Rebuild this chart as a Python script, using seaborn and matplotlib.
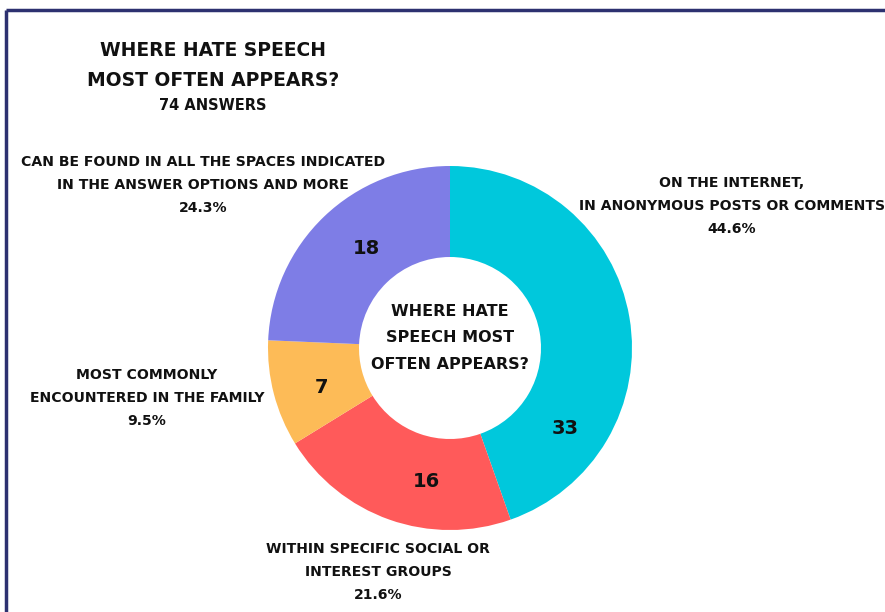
import matplotlib
matplotlib.use("Agg")
import numpy as np
import matplotlib.pyplot as plt
import seaborn as sns

sns.set_theme(style="white")
plt.rcParams["font.family"] = ["DejaVu Sans"]

# Survey answers
categories = [
    "ON THE INTERNET,\nIN ANONYMOUS POSTS OR COMMENTS",
    "WITHIN SPECIFIC SOCIAL OR\nINTEREST GROUPS",
    "MOST COMMONLY\nENCOUNTERED IN THE FAMILY",
    "CAN BE FOUND IN ALL THE SPACES INDICATED\nIN THE ANSWER OPTIONS AND MORE",
]
counts = [33, 16, 7, 18]
colors = ["#00C8DC", "#FF5A5A", "#FDBB57", "#7E7DE6"]
total_answers = 74

W, H = 885, 612
fig = plt.figure(figsize=(W / 100, H / 100), dpi=100)
ax = fig.add_axes([0, 0, 1, 1])

cx, cy, R = 450, H - 348, 182

wedges, _, autotexts = ax.pie(
    counts,
    colors=colors,
    startangle=90,
    counterclock=False,
    center=(cx, cy),
    radius=R,
    wedgeprops=dict(width=R * 0.5, linewidth=0),
    autopct=lambda p: f"{round(p * sum(counts) / 100):d}",
    pctdistance=0.76,
    frame=True,
)
ax.set_xlim(0, W)
ax.set_ylim(0, H)
ax.axis("off")

# Count labels: angle (deg) and radius inside the ring for each slice
count_label_polar = [(-35, 141), (260, 136), (197, 134), (130, 130)]
for t, (ang, rr) in zip(autotexts, count_label_polar):
    a = np.deg2rad(ang)
    t.set_position((cx + rr * np.cos(a), cy + rr * np.sin(a)))
    t.set_fontsize(14)
    t.set_fontweight("heavy")
    t.set_color("#111111")

# Frame lines
ax.plot([6, 6], [-5, H - 10], color="#2D3170", lw=2.5, solid_capstyle="butt")
ax.plot([6, W + 5], [H - 10, H - 10], color="#2D3170", lw=2.5, solid_capstyle="butt")

txt = dict(ha="center", va="center", color="#111111", fontweight="heavy")

# Title block
ax.text(213, H - 50, "WHERE HATE SPEECH", fontsize=13.5, **txt)
ax.text(213, H - 80, "MOST OFTEN APPEARS?", fontsize=13.5, **txt)
ax.text(213, H - 106, f"{total_answers} ANSWERS", fontsize=10.5, **txt)

# Centre caption
ax.text(cx, cy + 10, "WHERE HATE\nSPEECH MOST\nOFTEN APPEARS?", fontsize=11.5,
        linespacing=1.95, **txt)

# Category labels with shares
pcts = [c / sum(counts) * 100 for c in counts]
label_pos = [(732, H - 206), (378, H - 572), (147, H - 398), (203, H - 185)]
for cat, pct, (lx, ly) in zip(categories, pcts, label_pos):
    ax.text(lx, ly, f"{cat}\n{pct:.1f}%", fontsize=10.1, linespacing=1.8, **txt)

fig.savefig("out.png", dpi=100, facecolor="white")
